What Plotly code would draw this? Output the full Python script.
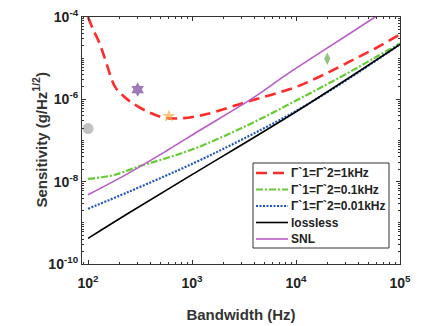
import plotly.graph_objects as go

# ---- data ----
bw_red = [100, 112, 128, 145, 182, 219, 263, 389, 550, 794, 1175, 1778, 3162, 5623, 10000, 17783, 31623, 56234, 100000]
sens_red = [1.0e-4, 5.0e-5, 2.4e-5, 1.0e-5, 2.0e-6, 1.2e-6, 8.3e-7, 4.8e-7, 3.55e-7, 3.47e-7, 4.0e-7, 5.2e-7, 8.3e-7, 1.26e-6, 2.0e-6, 3.8e-6, 7.9e-6, 1.66e-5, 3.8e-5]

bw_green = [100, 178, 316, 562, 1000, 1778, 3162, 5623, 10000, 17783, 31623, 56234, 100000]
sens_green = [1.17e-8, 1.45e-8, 2.4e-8, 3.7e-8, 6.03e-8, 1.10e-7, 2.14e-7, 4.37e-7, 9.33e-7, 2.0e-6, 4.37e-6, 1.0e-5, 2.29e-5]

bw_blue = [100, 251, 1000, 3162, 10000, 31623, 100000]
sens_blue = [2.2e-9, 5.8e-9, 2.7e-8, 1.12e-7, 5.2e-7, 3.1e-6, 2.2e-5]

bw_black = [100, 251, 1000, 10000, 100000]
sens_black = [4.2e-10, 1.78e-9, 1.48e-8, 5.0e-7, 2.15e-5]

bw_snl = [100, 251, 575, 1202, 3631, 8710, 57544, 100000]
sens_snl = [4.8e-9, 1.66e-8, 5.7e-8, 1.8e-7, 9.8e-7, 4.5e-6, 1.0e-4, 2.6e-4]

legend_labels = ["Γ`1=Γ`2=1kHz", "Γ`1=Γ`2=0.1kHz", "Γ`1=Γ`2=0.01kHz", "lossless", "SNL"]

# experimental points
pt_x = [100, 300, 600, 20000]
pt_y = [1.95e-7, 1.73e-6, 3.9e-7, 9.7e-6]
pt_sym = ["circle", "hexagram", "star", "diamond-tall"]
pt_col = ["#a6a6a6", "#7a3fa0", "#f2b04a", "#6aa84f"]
pt_size = [11, 11, 10, 9]

x_ticks = [100, 1000, 10000, 100000]
x_text = ["10<sup>2</sup>", "10<sup>3</sup>", "10<sup>4</sup>", "10<sup>5</sup>"]
y_ticks = [1e-10, 1e-8, 1e-6, 1e-4]
y_text = ["10<sup>-10</sup>", "10<sup>-8</sup>", "10<sup>-6</sup>", "10<sup>-4</sup>"]

# ---- styles ----
colors = ["#ff2b2b", "#66cc33", "#2255c4", "black", "#b85cc6"]
widths = [2.6, 2.2, 2.2, 1.6, 1.6]
dashes = ["11px,6px", "7px,2px,2px,2px", "2px,1.5px", "solid", "solid"]
FONT = "Liberation Sans, Arial, sans-serif"

W, H = 426, 326
ML, MR, MT, MB = 82, 26, 17, 62
PW, PH = W - ML - MR, H - MT - MB


def px(x):
    return (x - ML) / PW


def py(y):
    return (H - MB - y) / PH


series = [(bw_red, sens_red), (bw_green, sens_green), (bw_blue, sens_blue),
          (bw_black, sens_black), (bw_snl, sens_snl)]

fig = go.Figure()
for i, (xs, ys) in enumerate(series):
    fig.add_trace(go.Scatter(x=xs, y=ys, mode="lines", name=legend_labels[i], showlegend=False,
                             line_shape="spline",
                             line=dict(color=colors[i], width=widths[i], dash=dashes[i])))
fig.add_trace(go.Scatter(x=pt_x, y=pt_y, mode="markers", showlegend=False,
                         marker=dict(symbol=pt_sym, color=pt_col, size=pt_size, line=dict(width=0))))

axis_font = dict(family=FONT, size=14, color="#222", weight="bold")
common = dict(ticks="inside", ticklen=4, tickcolor="#333", mirror="ticks", automargin=False,
              showline=True, linecolor="#333", linewidth=1.2, showgrid=False, zeroline=False,
              minor=dict(ticks="inside", ticklen=2, tickcolor="#333", showgrid=False, dtick="D1"),
              tickfont=axis_font)
fig.update_xaxes(type="log", range=[1.942, 5.0], tickvals=x_ticks, ticktext=x_text,
                 ticklabelstandoff=6,
                 title=dict(text="Bandwidth (Hz)", font=dict(family=FONT, size=15, color="#333", weight="bold"),
                            standoff=19),
                 **common)
fig.update_yaxes(type="log", range=[-10, -4], tickvals=y_ticks, ticktext=y_text, **common)

# y-axis title placed precisely
fig.add_annotation(text="Sensitivity (g/Hz<sup>1/2</sup>)", xref="paper", yref="paper",
                   x=px(28), y=py(140), textangle=-90, showarrow=False,
                   font=dict(family=FONT, size=15, color="#333", weight="bold"))

# ---- legend box drawn by hand to match the reference's compact spacing ----
box_l, box_r, box_t, box_b = 253, 389, 163, 248
fig.add_shape(type="rect", xref="paper", yref="paper", x0=px(box_l), x1=px(box_r), y0=py(box_b), y1=py(box_t),
              line=dict(color="#333", width=1), fillcolor="white", layer="above")
row_y = [173, 189.5, 206, 222.5, 239]
for i, lab in enumerate(legend_labels):
    fig.add_shape(type="line", xref="paper", yref="paper", x0=px(256), x1=px(288), y0=py(row_y[i]), y1=py(row_y[i]),
                  line=dict(color=colors[i], width=widths[i], dash=dashes[i]), layer="above")
    fig.add_annotation(text=lab, xref="paper", yref="paper", x=px(289), y=py(row_y[i]),
                       xanchor="left", yanchor="middle", showarrow=False,
                       font=dict(family=FONT, size=12, color="#222", weight="bold"))

fig.update_layout(width=W, height=H, margin=dict(l=ML, r=MR, t=MT, b=MB, autoexpand=False),
                  paper_bgcolor="white", plot_bgcolor="white", showlegend=False)

fig.write_html("out.html")
